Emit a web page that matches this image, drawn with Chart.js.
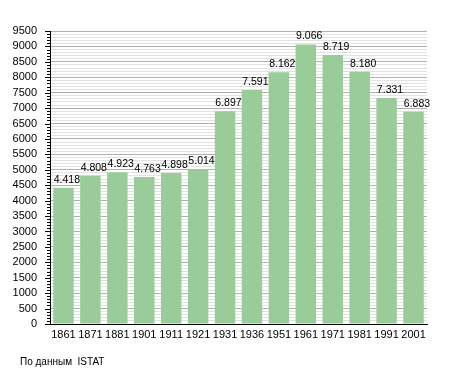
<!DOCTYPE html>
<html>
<head>
<meta charset="utf-8">
<script src="https://cdn.jsdelivr.net/npm/chart.js@4"></script>
<style>
  body { margin: 0; background: #fff; }
  #wrap { position: relative; width: 455px; height: 373px; }
  #note { position: absolute; left: 20px; top: 356px; font: 10px "Liberation Sans", Arial, sans-serif; color: #000; }
</style>
</head>
<body>
<div id="wrap">
  <canvas id="chart" width="455" height="373"></canvas>
  <div id="note">По данным&nbsp; ISTAT</div>
</div>
<script>
// anni del censimento e abitanti
const years = ['1861', '1871', '1881', '1901', '1911', '1921', '1931', '1936', '1951', '1961', '1971', '1981', '1991', '2001'];
const inhabitants = [4418, 4808, 4923, 4763, 4898, 5014, 6897, 7591, 8162, 9066, 8719, 8180, 7331, 6883];
const yMax = 9500;

// 4418 -> "4.418"
function fmt(v) {
  return String(v).replace(/\B(?=(\d{3})+(?!\d))/g, '.');
}

const fontFamily = '"Liberation Sans", Arial, sans-serif';

// valori sopra le barre + tacche sull'asse y
const extras = {
  id: 'extras',
  afterDatasetsDraw(chart) {
    const ctx = chart.ctx;
    const meta = chart.getDatasetMeta(0);
    ctx.save();
    ctx.font = '10.5px ' + fontFamily;
    ctx.fillStyle = '#000';
    ctx.textAlign = 'left';
    ctx.textBaseline = 'alphabetic';
    meta.data.forEach((bar, i) => {
      const left = bar.x - bar.width / 2;
      ctx.fillText(fmt(inhabitants[i]), left + 0.5, bar.y - 5);
    });
    ctx.restore();
  },
  afterDraw(chart) {
    const ctx = chart.ctx;
    const y = chart.scales.y;
    const x0 = chart.chartArea.left;
    ctx.save();
    ctx.strokeStyle = '#000';
    ctx.lineWidth = 1;
    ctx.beginPath();
    for (let v = 0; v <= yMax; v += 100) {
      const py = Math.round(y.getPixelForValue(v)) + 0.5;
      const len = v % 500 === 0 ? 5 : 3;
      ctx.moveTo(x0 - len, py);
      ctx.lineTo(x0, py);
    }
    ctx.stroke();
    ctx.restore();
  }
};

const chart = new Chart(document.getElementById('chart').getContext('2d'), {
  type: 'bar',
  data: {
    labels: years,
    datasets: [{
      data: inhabitants,
      backgroundColor: '#99cc99',
      borderWidth: 0,
      categoryPercentage: 1,
      barPercentage: 0.76
    }]
  },
  options: {
    responsive: false,
    animation: false,
    layout: { padding: { left: 0, right: 28, top: 31, bottom: 27 } },
    plugins: {
      legend: { display: false },
      tooltip: { enabled: false }
    },
    scales: {
      x: {
        grid: { display: false, drawTicks: false },
        border: { display: true, color: '#000', width: 1 },
        ticks: { color: '#000', font: { family: fontFamily, size: 11 }, padding: 4, maxRotation: 0, autoSkip: false },
        afterFit(scale) { scale.height = 22; }
      },
      y: {
        min: 0,
        max: yMax,
        grid: {
          drawTicks: false,
          color: (c) => (c.tick && c.tick.value % 500 === 0 ? '#b0b0b0' : '#e2e2e2'),
          lineWidth: 1
        },
        border: { display: true, color: '#000', width: 1 },
        ticks: {
          stepSize: 100,
          autoSkip: false,
          padding: 13,
          color: '#000',
          font: { family: fontFamily, size: 11 },
          callback: (v) => (v % 500 === 0 ? String(v) : '')
        },
        afterFit(scale) { scale.width = 50; }
      }
    }
  },
  plugins: [extras]
});
</script>
</body>
</html>
